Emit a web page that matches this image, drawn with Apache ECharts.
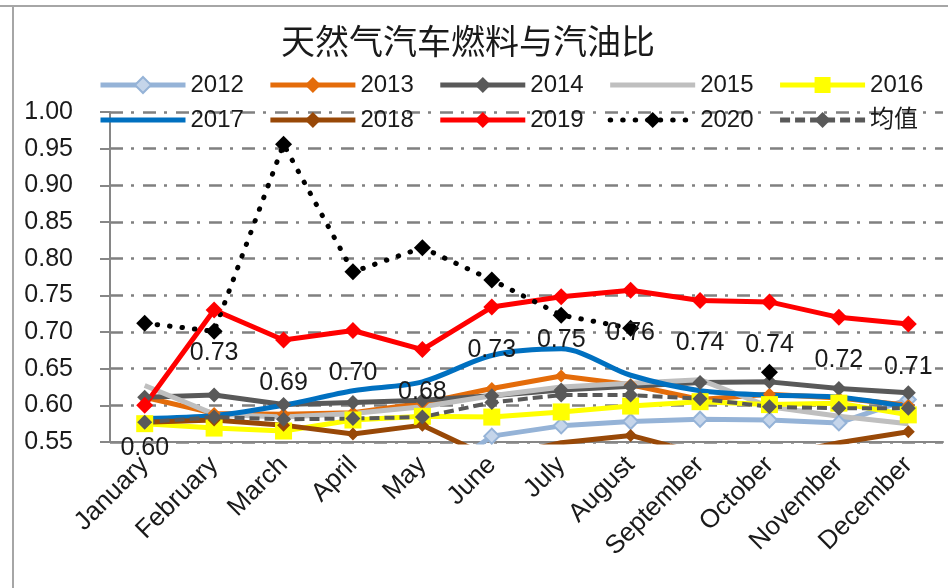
<!DOCTYPE html>
<html>
<head>
<meta charset="utf-8">
<title>天然气汽车燃料与汽油比</title>
<script src="https://cdn.jsdelivr.net/npm/echarts@6/dist/echarts.min.js"></script>
<style>
  html, body { margin: 0; padding: 0; background: #fff; }
  #main { width: 948px; height: 588px; }
</style>
</head>
<body>
<div id="main"></div>
<script>
// 月份
const months = ["January", "February", "March", "April", "May", "June",
  "July", "August", "September", "October", "November", "December"];

// 纵轴范围
const yMin = 0.55;
const yMax = 1.0;
const yStep = 0.05;

// 各年比值（低于 0.55 的点在图外被裁掉）
const v2012 = [0.50, 0.49, 0.48, 0.49, 0.49, 0.558, 0.572, 0.578, 0.581, 0.580, 0.576, 0.608];
const v2013 = [0.611, 0.589, 0.588, 0.590, 0.603, 0.623, 0.640, 0.628, 0.608, 0.615, 0.610, 0.600];
const v2014 = [0.611, 0.614, 0.601, 0.604, 0.607, 0.613, 0.621, 0.626, 0.631, 0.632, 0.623, 0.617];
const v2015 = [0.627, 0.588, 0.584, 0.589, 0.598, 0.613, 0.625, 0.630, 0.635, 0.598, 0.585, 0.575];
const v2016 = [0.575, 0.569, 0.565, 0.580, 0.585, 0.584, 0.591, 0.599, 0.605, 0.601, 0.603, 0.587];
const v2017 = [0.582, 0.586, 0.600, 0.620, 0.632, 0.668, 0.677, 0.641, 0.620, 0.614, 0.611, 0.598];
const v2018 = [0.577, 0.580, 0.573, 0.561, 0.573, 0.528, 0.549, 0.559, 0.534, 0.530, 0.549, 0.564];
const v2019 = [0.600, 0.730, 0.689, 0.702, 0.676, 0.734, 0.748, 0.757, 0.743, 0.741, 0.720, 0.711];
const v2020 = [0.712, 0.701, 0.956, 0.782, 0.815, 0.771, 0.723, 0.705, null, 0.645, null, null];
const vAvg = [0.577, 0.584, 0.581, 0.582, 0.584, 0.604, 0.614, 0.614, 0.609, 0.598, 0.596, 0.596];

// 图例两行
const legendRow1 = ["2012", "2013", "2014", "2015", "2016"];
const legendRow2 = ["2017", "2018", "2019", "2020", "均值"];
// 没有标记的系列
const noMarker = ["2015", "2017"];

const txtFont = "'Liberation Sans', 'Noto Sans CJK SC', sans-serif";
const gridGrey = "#808080";

// 折线系列
function makeLine(name, data, color, symbol, size, extra) {
  const s = {
    name: name,
    type: "line",
    data: data,
    symbol: symbol,
    symbolSize: size,
    showSymbol: symbol !== "none",
    lineStyle: { color: color, width: 5 },
    itemStyle: { color: color },
    emphasis: { disabled: true },
    animation: false,
  };
  return Object.assign(s, extra || {});
}

function legendItems(names) {
  return names.map((n) =>
    noMarker.includes(n) ? { name: n, itemStyle: { opacity: 0 } } : { name: n }
  );
}

function makeLegend(names, top) {
  return {
    data: legendItems(names),
    left: 93,
    top: top,
    itemWidth: 85,
    itemHeight: 20,
    itemGap: 24,
    lineStyle: { width: 5 },
    textStyle: { fontFamily: txtFont, fontSize: 24, color: "#1a1a1a" },
  };
}

const chart = echarts.init(document.getElementById("main"));

const option = {
  backgroundColor: "#fff",
  title: {
    text: "天然气汽车燃料与汽油比",
    left: 276,
    top: 19,
    textStyle: {
      fontFamily: "'Noto Sans CJK SC', sans-serif",
      fontSize: 34,
      fontWeight: "normal",
      color: "#1a1a1a",
    },
  },
  legend: [makeLegend(legendRow1, 68), makeLegend(legendRow2, 103)],
  grid: { left: 110, right: 5, top: 112, bottom: 146 },
  xAxis: {
    type: "category",
    data: months,
    axisLine: { lineStyle: { color: "#868686", width: 2 } },
    axisTick: { length: 8, lineStyle: { color: "#868686", width: 2 } },
    axisLabel: {
      rotate: 45,
      margin: 19,
      fontFamily: txtFont,
      fontSize: 26,
      color: "#1a1a1a",
    },
  },
  yAxis: {
    type: "value",
    min: yMin,
    max: yMax,
    interval: yStep,
    axisLine: { show: true, lineStyle: { color: "#868686", width: 2 } },
    axisTick: { show: true, length: 10, lineStyle: { color: "#868686", width: 2 } },
    axisLabel: {
      margin: 37,
      fontFamily: txtFont,
      fontSize: 25,
      color: "#1a1a1a",
      formatter: (v) => v.toFixed(2),
    },
    splitLine: {
      lineStyle: { color: gridGrey, width: 2.5, type: [13, 8, 3, 9] },
    },
  },
  series: [
    makeLine("2012", v2012, "#95b3d7", "diamond", 15, {
      itemStyle: { color: "#c5d5ea", borderColor: "#95b3d7", borderWidth: 2 },
    }),
    makeLine("2013", v2013, "#e46c0a", "diamond", 13),
    makeLine("2014", v2014, "#595959", "diamond", 15),
    makeLine("2015", v2015, "#bfbfbf", "none", 0),
    makeLine("2016", v2016, "#ffff00", "rect", 17),
    makeLine("2017", v2017, "#0070c0", "none", 0, { smooth: 0.3 }),
    makeLine("2018", v2018, "#984807", "diamond", 13),
    makeLine("2019", v2019, "#ff0000", "diamond", 17, {
      label: {
        show: true,
        position: "bottom",
        distance: 22,
        fontFamily: txtFont,
        fontSize: 25,
        color: "#1a1a1a",
        formatter: (p) => p.value.toFixed(2),
      },
    }),
    makeLine("2020", v2020, "#000000", "diamond", 17, {
      lineStyle: { color: "#000", width: 5, type: [0.5, 12], cap: "round" },
    }),
    makeLine("均值", vAvg, "#595959", "diamond", 15, {
      lineStyle: { color: "#595959", width: 4, type: [10, 5] },
    }),
  ],
  graphic: [
    // 外框
    { type: "line", shape: { x1: 0, y1: 6, x2: 948, y2: 6 }, style: { stroke: "#a6a6a6", lineWidth: 2 } },
    { type: "line", shape: { x1: 13, y1: 6, x2: 13, y2: 588 }, style: { stroke: "#a6a6a6", lineWidth: 2 } },
  ],
};

chart.setOption(option);
</script>
</body>
</html>
